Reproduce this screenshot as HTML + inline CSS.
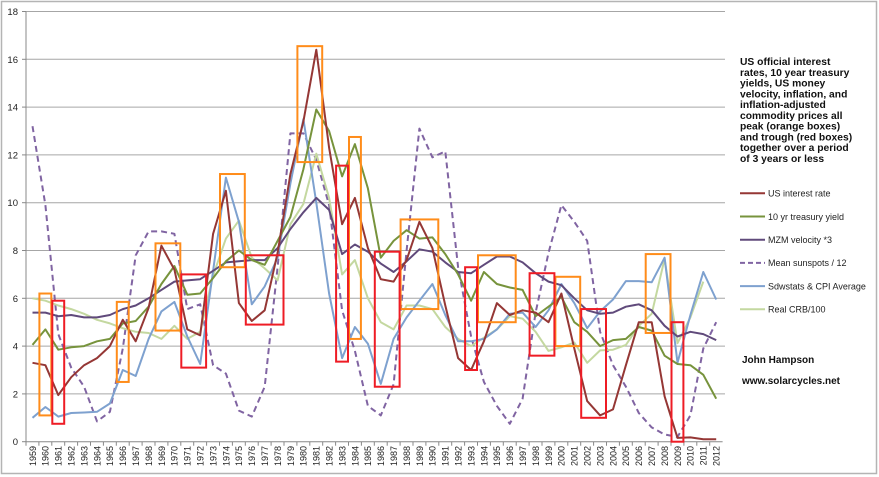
<!DOCTYPE html>
<html><head><meta charset="utf-8">
<style>
html,body{margin:0;padding:0;background:#fff;}
#wrap{position:relative;width:879px;height:477px;overflow:hidden;font-family:"Liberation Sans","DejaVu Sans",sans-serif;}
</style></head>
<body>
<div id="wrap">
<svg id="chart" width="879" height="477" xmlns="http://www.w3.org/2000/svg"></svg>
</div>
<script>
const years = [];
for (let y = 1959; y <= 2012; y++) years.push(y);
const yTicks = [0,2,4,6,8,10,12,14,16,18];
const usRate = [3.3,3.2,1.95,2.7,3.2,3.5,4.0,5.1,4.2,5.6,8.2,7.2,4.7,4.45,8.7,10.5,5.8,5.05,5.5,7.9,11.2,13.4,16.4,12.3,9.1,10.2,8.1,6.8,6.7,7.6,9.2,8.1,5.7,3.5,3.0,4.2,5.8,5.3,5.5,5.4,5.0,6.2,3.9,1.7,1.1,1.35,3.2,5.0,5.0,1.9,0.16,0.18,0.1,0.1];
const treasury = [4.05,4.7,3.85,3.95,4.0,4.2,4.3,4.95,5.05,5.65,6.6,7.35,6.15,6.2,6.85,7.55,8.0,7.6,7.4,8.4,9.4,11.4,13.9,13.0,11.1,12.45,10.6,7.7,8.4,8.85,8.5,8.55,7.85,7.0,5.9,7.1,6.6,6.45,6.35,5.25,5.65,6.05,5.0,4.6,4.0,4.25,4.3,4.8,4.65,3.6,3.25,3.2,2.8,1.8];
const mzm = [5.4,5.4,5.25,5.3,5.2,5.2,5.3,5.55,5.7,6.0,6.35,6.7,6.75,6.8,7.15,7.5,7.55,7.6,7.6,8.1,8.9,9.6,10.2,9.7,7.85,8.25,7.95,7.45,7.1,7.55,8.05,7.95,7.5,7.1,7.05,7.4,7.75,7.75,7.5,7.05,6.7,6.55,6.0,5.5,5.35,5.4,5.65,5.75,5.5,4.85,4.4,4.6,4.5,4.25];
const sunspots = [13.2,9.9,4.5,3.1,2.3,0.85,1.25,3.9,7.8,8.8,8.8,8.7,5.55,5.75,3.2,2.85,1.3,1.05,2.3,7.3,12.9,12.9,11.8,9.9,5.5,3.8,1.5,1.1,2.4,8.0,13.1,11.9,12.15,7.3,4.4,2.5,1.5,0.75,1.8,5.4,7.9,9.9,9.2,8.4,4.6,3.2,2.3,1.2,0.6,0.3,0.2,1.1,3.9,5.0];
const sdw = [1.0,1.45,1.05,1.2,1.22,1.25,1.6,3.0,2.75,4.3,5.45,5.85,4.4,3.25,7.15,11.05,9.2,5.75,6.5,7.7,10.8,13.5,10.0,6.2,3.5,4.8,4.1,2.42,4.3,5.2,5.9,6.6,5.3,4.2,4.2,4.3,4.7,5.35,5.4,4.8,5.5,6.6,5.8,4.75,5.45,5.95,6.72,6.72,6.67,7.7,3.3,5.3,7.1,5.95];
const crb = [6.0,5.9,5.7,5.55,5.35,5.1,4.95,4.75,4.6,4.55,4.3,4.85,4.3,4.6,6.95,8.5,9.25,7.7,7.25,6.75,9.1,9.95,12.05,10.2,7.0,7.6,6.0,5.0,4.7,5.7,5.7,5.55,4.8,4.3,4.0,4.35,4.7,5.25,5.15,4.6,3.8,3.95,4.15,3.3,3.82,3.85,4.05,4.85,5.35,7.65,4.12,5.2,6.7,null];
const seriesNames = ["US interest rate","10 yr treasury yield","MZM velocity *3","Mean sunspots  / 12","Sdwstats & CPI Average","Real CRB/100"];
// peak (orange) and trough (red) boxes: [startYear, endYear, lowValue, highValue]
const orangeBoxes = [[1960,1960,1.1,6.2],[1966,1966,2.5,5.85],[1969,1970,4.65,8.3],[1974,1975,7.3,11.2],[1980,1981,11.7,16.55],[1984,1984,4.3,12.75],[1988,1990,5.55,9.3],[1994,1996,5.0,7.8],[2000,2001,4.0,6.9],[2007,2008,4.55,7.85]];
const redBoxes = [[1961,1961,0.75,5.9],[1971,1972,3.1,7.0],[1976,1978,4.9,7.8],[1983,1983,3.35,11.55],[1986,1987,2.3,7.95],[1993,1993,3.0,7.3],[1998,1999,3.6,7.05],[2002,2003,1.0,5.55],[2009,2009,0,5.0]];

const svg = document.getElementById('chart');
const NS = 'http://www.w3.org/2000/svg';
const X0 = 26, CW = 12.9, Y0 = 441.7, PPU = 23.9;
const xOf = i => X0 + CW/2 + i*CW;
const yOf = v => Y0 - v*PPU;
const xYear = y => xOf(y - years[0]);
function mk(tag, attrs, parent){ const e=document.createElementNS(NS,tag); for(const k in attrs) e.setAttribute(k,attrs[k]); (parent||svg).appendChild(e); return e; }

// outer border
const border = mk('rect',{x:1.5,y:1.5,width:875,height:472,fill:'#fff',stroke:'#b4b4b4','stroke-width':1.5});



// gridlines & y labels
yTicks.forEach(t=>{
  if(t>0){
    const g = mk('line',{x1:X0,x2:725,y1:yOf(t),y2:yOf(t),stroke:'#a6a6a6','stroke-width':1});
    
    
  }
  const tk = mk('line',{x1:X0-4,x2:X0,y1:yOf(t),y2:yOf(t),stroke:'#888','stroke-width':1});
  
  
  const lb = mk('text',{x:X0-8,y:yOf(t)+3.5,'text-anchor':'end','font-size':9.5,fill:'#222'});
  lb.textContent = t;
  
  
});
const yAxis = mk('line',{x1:X0,x2:X0,y1:yOf(18),y2:Y0,stroke:'#888','stroke-width':1});


const xAxis = mk('line',{x1:X0,x2:X0+CW*years.length,y1:Y0,y2:Y0,stroke:'#888','stroke-width':1});


years.forEach((y,i)=>{
  const tk = mk('line',{x1:X0+i*CW,x2:X0+i*CW,y1:Y0,y2:Y0+4,stroke:'#888','stroke-width':1});
  
  
  const lb = mk('text',{x:0,y:0,'text-anchor':'end','font-size':9,fill:'#222',transform:`translate(${xOf(i)+3.3},446) rotate(-90)`});
  lb.textContent = y;
  
  
});

function line(data, color, width, dash, name){
  let d='', started=false;
  data.forEach((v,i)=>{ if(v==null) return; d += (started?'L':'M') + xOf(i).toFixed(1)+','+yOf(v).toFixed(1); started=true; });
  const p = mk('path',{d:d,fill:'none',stroke:color,'stroke-width':width,'stroke-linejoin':'round'});
  if(dash) p.setAttribute('stroke-dasharray',dash);
  
  
}
const colors = ['#953735','#77933c','#604a7b','#8064a2','#7ea1cf','#c4d8a0'];
line(sunspots, colors[3], 2, '6,4', 'series-sunspots');
line(crb, colors[5], 2, null, 'series-real-crb');
line(sdw, colors[4], 2, null, 'series-sdwstats-cpi');
line(mzm, colors[2], 2, null, 'series-mzm-velocity');
line(treasury, colors[1], 2, null, 'series-treasury-yield');
line(usRate, colors[0], 2, null, 'series-us-interest-rate');

function boxes(list, color, name){
  list.forEach(b=>{
    const x1 = xYear(b[0]) - CW/2 + 0.5, x2 = xYear(b[1]) + CW/2 - 0.5;
    const r = mk('rect',{x:x1,y:yOf(b[3]),width:x2-x1,height:yOf(b[2])-yOf(b[3]),fill:'none',stroke:color,'stroke-width':2});
    
    
  });
}
boxes(orangeBoxes,'#ff8c1a','peak-box');
boxes(redBoxes,'#ee1c25','trough-box');

// title text
const titleLines = ['US official interest','rates, 10 year treasury','yields, US money','velocity, inflation, and','inflation-adjusted','commodity prices all','peak (orange boxes)','and trough (red boxes)','together over a period','of 3 years or less'];
const tt = mk('text',{x:740,y:65,'font-size':10.3,'font-weight':'bold',fill:'#111'});


titleLines.forEach((l,i)=>{ const s=mk('tspan',{x:740,y:65+i*10.75},tt); s.textContent=l; });

// legend
seriesNames.forEach((n,i)=>{
  const y = 193.3 + i*23.2;
  const g = mk('g',{});
  
  
  const ln = mk('line',{x1:740,x2:765,y1:y,y2:y,stroke:colors[i],'stroke-width':2},g);
  if(i===3) ln.setAttribute('stroke-dasharray','5,3');
  const t = mk('text',{x:768,y:y+3.3,'font-size':9,fill:'#222'},g);
  t.textContent = n;
});

const a1 = mk('text',{x:742,y:363,'font-size':10,'font-weight':'bold',fill:'#111'});
a1.textContent='John Hampson';


const a2 = mk('text',{x:742,y:384,'font-size':10,'font-weight':'bold',fill:'#111'});
a2.textContent='www.solarcycles.net';


</script>
</body></html>
